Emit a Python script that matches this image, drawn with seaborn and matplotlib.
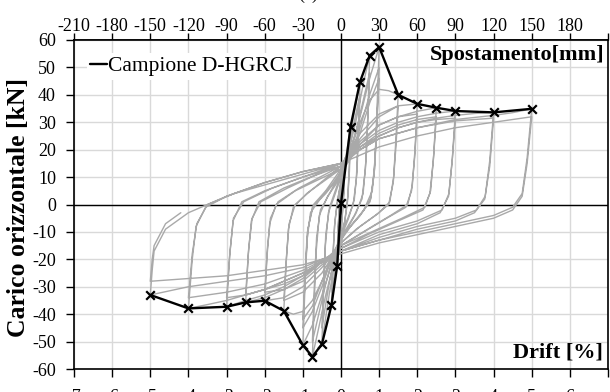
import matplotlib
matplotlib.use("Agg")
import matplotlib.pyplot as plt
import seaborn as sns
import numpy as np

# ---------------- data (drift %, force kN) ----------------
env_drift = [-5, -4, -3, -2.5, -2, -1.5, -1, -0.75, -0.5, -0.25, -0.1, 0,
             0.25, 0.5, 0.75, 1, 1.5, 2, 2.5, 3, 4, 5]
env_force = [-33.0, -37.9, -37.3, -35.7, -35.1, -38.8, -51.3, -55.5, -50.9, -36.7, -22.4, 0.4,
             28.4, 44.8, 54.3, 57.4, 40.0, 36.7, 35.3, 34.1, 33.6, 34.9]

loop_010 = [(0, 0), (0.05, 9), (0.1, 17), (0.08, 6), (0.04, -3), (0, -9), (-0.05, -16), (-0.1, -22.4),
            (-0.08, -10), (-0.04, 0), (0, 6), (0.05, 11), (0.1, 15), (0.08, 5), (0.03, -4), (0, -8),
            (-0.05, -14), (-0.1, -20), (-0.08, -9), (-0.03, 1)]
loop_025 = [(0, 7), (0.1, 15), (0.18, 22), (0.25, 28.4), (0.22, 15), (0.18, 3), (0.1, -6), (0, -13),
            (-0.1, -21), (-0.18, -29), (-0.25, -36.7), (-0.22, -22), (-0.17, -8), (-0.1, 1), (0, 8),
            (0.1, 14), (0.18, 20), (0.25, 25), (0.22, 12), (0.17, 1), (0.1, -6), (0, -12), (-0.1, -19),
            (-0.18, -26), (-0.25, -32), (-0.21, -18), (-0.16, -6), (-0.08, 2)]
loop_050 = [(0, 9), (0.15, 18), (0.3, 30), (0.42, 39), (0.5, 44.8), (0.46, 28), (0.42, 12), (0.35, 2),
            (0.2, -5), (0, -12), (-0.15, -20), (-0.3, -32), (-0.42, -43), (-0.5, -50.9), (-0.46, -32),
            (-0.41, -15), (-0.33, -3), (-0.15, 4), (0, 10), (0.15, 16), (0.3, 27), (0.42, 35), (0.5, 40),
            (0.45, 24), (0.4, 9), (0.32, 0), (0.15, -6), (0, -11), (-0.15, -18), (-0.3, -28),
            (-0.42, -38), (-0.5, -45), (-0.45, -27), (-0.4, -11), (-0.3, -1), (-0.15, 5)]
loop_075 = [(0, 11), (0.2, 19), (0.4, 31), (0.6, 45), (0.75, 54.3), (0.71, 35), (0.66, 17), (0.58, 4),
            (0.4, -3), (0.2, -8), (0, -13), (-0.2, -22), (-0.4, -33), (-0.6, -46), (-0.75, -55.5),
            (-0.7, -35), (-0.65, -17), (-0.57, -4), (-0.35, 3), (-0.15, 7), (0, 11), (0.2, 17),
            (0.4, 27), (0.6, 39), (0.75, 48), (0.7, 30), (0.64, 13), (0.55, 2), (0.35, -4), (0, -12),
            (-0.2, -19), (-0.4, -29), (-0.6, -41), (-0.75, -50), (-0.7, -30), (-0.64, -12),
            (-0.54, -2), (-0.3, 4)]
loop_100 = [(0, 12), (0.25, 20), (0.5, 32), (0.75, 46), (1, 57.4), (0.95, 37), (0.9, 18), (0.82, 5),
            (0.6, -2), (0.3, -7), (0, -13), (-0.25, -22), (-0.5, -33), (-0.75, -44), (-1, -51.3),
            (-0.95, -32), (-0.9, -14), (-0.8, -3), (-0.5, 3), (-0.25, 7), (0, 12), (0.25, 18),
            (0.5, 28), (0.75, 40), (1, 50), (0.94, 30), (0.88, 13), (0.78, 2), (0.5, -4), (0, -12),
            (-0.25, -20), (-0.5, -30), (-0.75, -39), (-1, -45), (-0.94, -26), (-0.88, -10),
            (-0.75, -1), (-0.4, 4), (0, 11), (0.25, 17), (0.5, 26), (0.75, 37), (1, 46), (0.93, 27),
            (0.87, 11), (0.76, 1), (0.5, -4), (0, -12), (-0.25, -19), (-0.5, -28), (-0.75, -37),
            (-1, -42), (-0.93, -24), (-0.87, -9), (-0.72, 0), (-0.4, 5)]
loop_150 = [(0, 13), (0.25, 20), (0.5, 30), (0.75, 38), (1, 42), (1.25, 41.5), (1.5, 40), (1.44, 24),
            (1.38, 10), (1.28, 1), (1, -3), (0.5, -8), (0, -14), (-0.25, -20), (-0.5, -28),
            (-0.75, -35), (-1, -39), (-1.25, -40), (-1.5, -38.8), (-1.44, -22), (-1.38, -9),
            (-1.25, -1), (-0.9, 4), (-0.5, 8), (0, 13), (0.5, 24), (1, 32), (1.5, 36), (1.44, 21),
            (1.37, 8), (1.25, 0), (0.9, -4), (0.4, -9), (0, -14), (-0.5, -25), (-1, -32), (-1.5, -35),
            (-1.43, -19), (-1.36, -7), (-1.2, 0), (-0.8, 5)]
loop_200 = [(0, 14), (0.5, 26), (1, 33), (1.5, 36), (2, 36.7), (1.94, 20), (1.87, 7), (1.75, 0),
            (1.3, -4), (0.7, -9), (0, -15), (-0.5, -23), (-1, -30), (-1.5, -34), (-2, -35.1),
            (-1.94, -19), (-1.87, -7), (-1.7, 0), (-1.2, 5), (-0.6, 9), (0, 13), (0.5, 22), (1, 29),
            (1.5, 32), (2, 33), (1.93, 17), (1.85, 5), (1.7, -1), (1.2, -5), (0.6, -10), (0, -15),
            (-0.5, -22), (-1, -28), (-1.5, -31), (-2, -32), (-1.93, -16), (-1.85, -5), (-1.65, 1),
            (-1.1, 6)]
loop_250 = [(0, 14), (0.5, 23), (1, 29), (1.5, 32), (2, 34), (2.5, 35.3), (2.43, 18), (2.35, 5),
            (2.2, -1), (1.6, -5), (0.8, -10), (0, -15), (-0.5, -21), (-1, -27), (-1.5, -31), (-2, -34),
            (-2.5, -35.7), (-2.43, -18), (-2.35, -6), (-2.15, 1), (-1.5, 6), (-0.8, 10), (0, 14),
            (0.5, 21), (1, 26), (1.5, 29), (2, 31), (2.5, 32), (2.42, 16), (2.33, 4), (2.15, -2),
            (1.5, -6), (0.7, -11), (0, -16), (-0.5, -21), (-1, -26), (-1.5, -29), (-2, -31),
            (-2.5, -33), (-2.42, -16), (-2.33, -5), (-2.1, 1), (-1.4, 6)]
loop_300 = [(0, 15), (0.5, 22), (1, 27), (1.5, 30), (2, 32), (2.5, 33.3), (3, 34.1), (2.92, 17),
            (2.83, 4), (2.65, -2), (2, -6), (1, -10), (0, -16), (-0.5, -21), (-1, -26), (-1.5, -30),
            (-2, -33), (-2.5, -35), (-3, -37.3), (-2.92, -19), (-2.83, -6), (-2.6, 1), (-2, 5),
            (-1, 10), (0, 14), (0.5, 20), (1, 25), (1.5, 28), (2, 30), (2.5, 31), (3, 31.5),
            (2.91, 15), (2.82, 3), (2.6, -3), (2, -7), (1, -11), (0, -17), (-0.5, -21), (-1, -25),
            (-1.5, -28), (-2, -31), (-2.5, -33), (-3, -34), (-2.91, -17), (-2.82, -5), (-2.55, 1),
            (-1.8, 6)]
loop_400 = [(0, 15), (0.5, 21), (1, 25), (1.5, 28), (2, 30), (2.5, 31.5), (3, 32.5), (3.5, 33.2),
            (4, 33.6), (3.9, 16), (3.78, 3), (3.55, -2), (3, -5), (2, -8), (1, -12), (0, -17),
            (-0.5, -21), (-1, -25), (-1.5, -28), (-2, -31), (-2.5, -33), (-3, -35), (-3.5, -36.5),
            (-4, -37.9), (-3.9, -20), (-3.8, -8), (-3.55, -1), (-3, 3), (-2, 8), (-1, 12), (0, 15),
            (0.5, 20), (1, 24), (2, 28), (3, 30.5), (4, 31.5), (3.9, 14), (3.77, 2), (3.5, -3),
            (3, -6), (2, -9), (1, -13), (0, -17), (-1, -24), (-2, -29), (-3, -32), (-4, -34),
            (-3.9, -18), (-3.78, -7), (-3.5, 0), (-2.8, 4)]
loop_500 = [(0, 15), (0.5, 20), (1, 24), (2, 28), (3, 31), (4, 32.5), (4.5, 33.5), (5, 34.9),
            (4.88, 17), (4.75, 4), (4.5, -1), (4, -4), (3, -7), (2, -10), (1, -13), (0, -17),
            (-1, -23), (-2, -26), (-3, -28), (-4, -30), (-4.5, -31.5), (-5, -33), (-4.95, -24),
            (-4.9, -17), (-4.6, -9), (-4, -3), (-3, 3), (-2, 8), (-1, 12), (0, 15), (1, 21), (2, 25),
            (3, 28), (4, 30), (5, 32), (4.88, 15), (4.75, 3), (4.5, -2), (4, -5), (3, -8), (2, -11),
            (1, -14), (0, -18), (-1, -22), (-2, -24), (-3, -26), (-4, -27), (-5, -28), (-4.95, -20),
            (-4.9, -15), (-4.6, -7), (-4.2, -3)]

drift_ticks = list(range(-7, 8))
drift_labels = [str(v) for v in range(-7, 7)] + [""]
mm_ticks = list(range(-210, 211, 30))
mm_labels = [str(v) for v in range(-210, 181, 30)] + [""]
force_ticks = list(range(-60, 61, 10))

# ---------------- figure ----------------
sns.set_theme(style="white")
plt.rcParams["font.family"] = ["Liberation Serif", "DejaVu Serif"]
plt.rcParams["axes.unicode_minus"] = False

fig = plt.figure(figsize=(6.1, 3.92), dpi=100)
ax = fig.add_axes([74 / 610, 1 - 369 / 392, 534 / 610, 329 / 392])

path = loop_010 + loop_025 + loop_050 + loop_075 + loop_100 + loop_150 + \
    loop_200 + loop_250 + loop_300 + loop_400 + loop_500
gx = np.array([p[0] for p in path])
gy = np.array([p[1] for p in path])

ax.axhline(0, color="black", lw=1.0, zorder=1.5)
ax.axvline(0, color="black", lw=1.0, zorder=1.5)

sns.lineplot(x=gx, y=gy, sort=False, estimator=None, color="#a9a9a9", lw=1.0, ax=ax,
             zorder=2)
sns.lineplot(x=env_drift, y=env_force, sort=False, estimator=None, color="black", lw=1.7,
             ax=ax, zorder=4, label="Campione D-HGRCJ")
sns.scatterplot(x=env_drift, y=env_force, marker="x", color="black", s=38, linewidth=1.6,
                ax=ax, zorder=5, legend=False)

ax.set_xlim(-7, 7)
ax.set_ylim(-60, 60)
ax.set_xticks(drift_ticks)
ax.set_xticklabels(drift_labels)
ax.set_yticks(force_ticks)
ax.grid(True, color="#d9d9d9", lw=1.0)
ax.set_axisbelow(True)
for s in ax.spines.values():
    s.set_color("black")
    s.set_linewidth(1.2)
ax.tick_params(axis="both", direction="out", length=6, width=1, color="black",
               labelsize=13, labelcolor="black")
ax.tick_params(axis="x", pad=8.5, bottom=True)
ax.tick_params(axis="y", pad=7, left=True)
ax.set_xlabel("")
ax.set_ylabel("Carico orizzontale [kN]", fontsize=18.5, fontweight="bold", color="black")
ax.yaxis.set_label_coords(-0.082, 0.49)

sec = ax.secondary_xaxis("top", functions=(lambda d: d * 30, lambda m: m / 30))
sec.set_xticks(mm_ticks)
sec.set_xticklabels(mm_labels)
sec.tick_params(axis="x", direction="out", length=5, width=1, color="black",
                labelsize=13, labelcolor="black", pad=-1.5)
sec.spines["top"].set_linewidth(1.2)

ax.text(0.9925, 0.955, "Spostamento[mm]", transform=ax.transAxes, ha="right", va="center",
        fontsize=16, fontweight="bold", color="black", zorder=6)
ax.text(0.99, 0.05, "Drift [%]", transform=ax.transAxes, ha="right", va="center",
        fontsize=16, fontweight="bold", color="black", zorder=6)

leg = ax.legend(loc="upper left", bbox_to_anchor=(0.024, 0.96), fontsize=15.5, frameon=True,
                handlelength=0.8, handletextpad=0.05, borderpad=0.15, borderaxespad=0.0)
leg.get_frame().set_edgecolor("none")
leg.get_frame().set_facecolor("white")
leg.get_frame().set_alpha(1)
leg.get_frame().set_boxstyle("square", pad=0)
for t in leg.get_texts():
    t.set_color("black")

fig.text(0.505, 1 + 1 / 392, "(a)", ha="center", va="baseline", fontsize=13, color="black")

fig.savefig("out.png", dpi=100)
